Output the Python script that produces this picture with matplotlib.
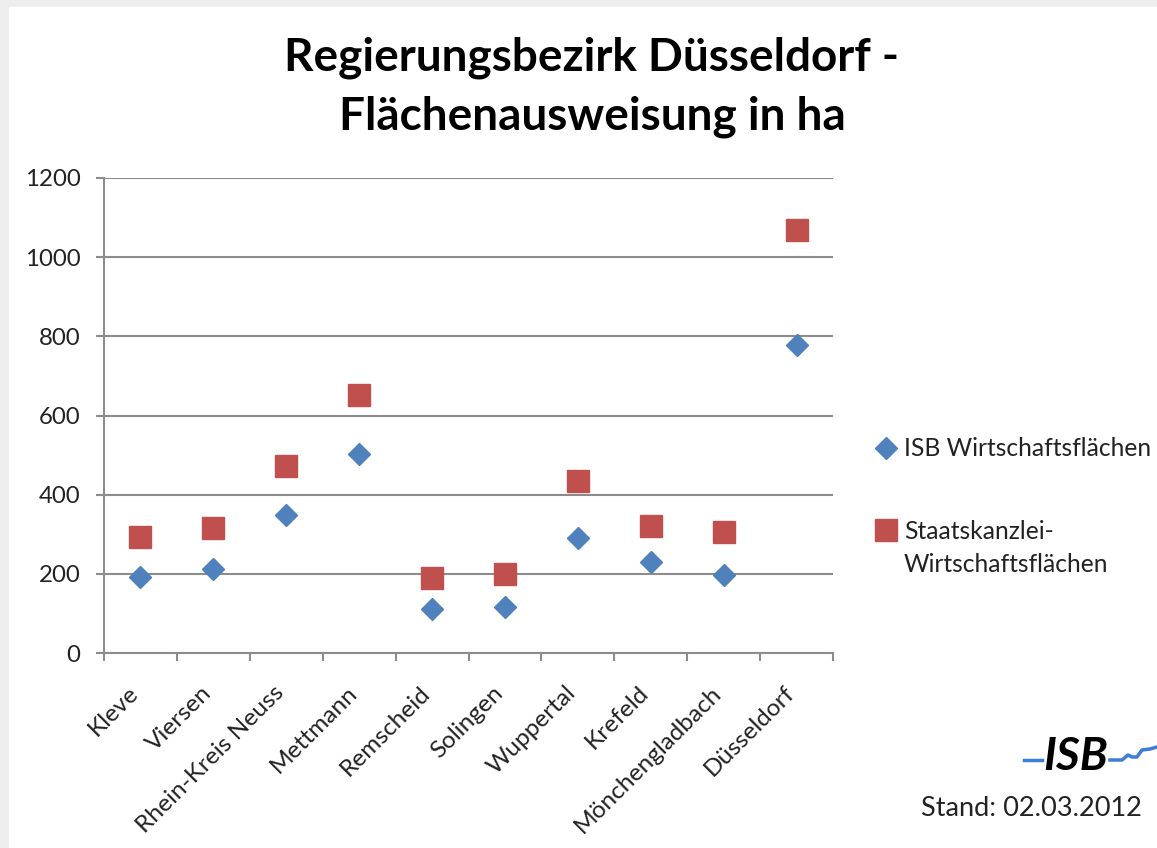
import matplotlib
matplotlib.use("Agg")
import matplotlib.pyplot as plt
from matplotlib.patches import Rectangle
from matplotlib.lines import Line2D
from matplotlib.transforms import ScaledTranslation

categories = ["Kleve", "Viersen", "Rhein-Kreis Neuss", "Mettmann", "Remscheid",
              "Solingen", "Wuppertal", "Krefeld", "Mönchengladbach", "Düsseldorf"]
isb_values = [192, 212, 349, 503, 111, 115, 291, 229, 196, 778]
staats_values = [293, 316, 473, 653, 189, 199, 434, 320, 306, 1068]
y_ticks = [0, 200, 400, 600, 800, 1000, 1200]
title = "Regierungsbezirk Düsseldorf -\nFlächenausweisung in ha"
series_names = ["ISB Wirtschaftsflächen", "Staatskanzlei-Wirtschaftsflächen"]

FONT = ["Lato", "DejaVu Sans"]
plt.rcParams["font.family"] = FONT

W, H = 1157, 848
fig = plt.figure(figsize=(W / 100, H / 100), dpi=100, facecolor="#eeeeee")
fig.patches.append(Rectangle((9 / W, 0), 1 - 9 / W, 1 - 7 / H, transform=fig.transFigure,
                             facecolor="white", edgecolor="none", zorder=-10))

ax = fig.add_axes([104 / W, 1 - 653 / H, (833 - 104) / W, (653 - 178) / H])
ax.set_zorder(2)
ax.set_facecolor("none")
grid_c = "#8c8c8c"
txt_c = "#222222"

x = list(range(len(categories)))
ax.plot(x, isb_values, linestyle="none", marker="D", markersize=11,
        color="#4f81bd", markeredgecolor="#4f81bd", label=series_names[0], zorder=3)
ax.plot(x, staats_values, linestyle="none", marker="s", markersize=16,
        color="#c0504d", markeredgecolor="#c0504d", label=series_names[1], zorder=3)

ax.set_xlim(-0.5, len(categories) - 0.5)
ax.set_ylim(0, 1200)
ax.set_yticks(y_ticks)
ax.set_yticklabels([str(v) for v in y_ticks])
ax.yaxis.grid(True, color=grid_c, linewidth=1.5)
ax.set_axisbelow(True)
for s in ["top", "right"]:
    ax.spines[s].set_visible(False)
for s in ["left", "bottom"]:
    ax.spines[s].set_color(grid_c)
    ax.spines[s].set_linewidth(1.5)

ax.tick_params(axis="y", length=6, width=1.5, color=grid_c, pad=11,
               labelsize=17.3, labelcolor=txt_c)
ax.set_xticks(x)
ax.set_xticklabels(categories, rotation=45, ha="right", rotation_mode="anchor",
                   fontsize=17.6, color=txt_c)
ax.tick_params(axis="x", which="major", length=0, pad=16)
ax.set_xticks([i - 0.5 for i in range(len(categories) + 1)], minor=True)
ax.tick_params(axis="x", which="minor", length=6, width=1.5, color=grid_c)
shift = ScaledTranslation(-13 / 100, -7 / 100, fig.dpi_scale_trans)
for lab in ax.get_xticklabels():
    lab.set_transform(lab.get_transform() + shift)

fig.text(592 / W, 1 - 87 / H, title, ha="center", va="center", fontsize=33,
         fontweight="bold", linespacing=1.48, color="black")

# legend: handles only; labels split over lines for display
h_isb, h_st = ax.get_lines()[:2]
leg = fig.legend([h_isb, h_st], [series_names[0], "Staatskanzlei-"],
                 loc="upper left", bbox_to_anchor=(864 / W, 1 - 425 / H),
                 frameon=False, fontsize=17.7, labelspacing=2.42, handlelength=0.8,
                 handletextpad=0.32, borderpad=0)
for t in leg.get_texts():
    t.set_color(txt_c)
fig.canvas.draw()
t2 = leg.get_texts()[1]
bb = t2.get_window_extent()
fig.text(bb.x0 / W, (bb.y0 + bb.y1) / 2 / H - 33 / H, "Wirtschaftsflächen",
         ha="left", va="center", fontsize=17.7, color=txt_c)

fig.text(1142 / W, 1 - 809 / H, "Stand: 02.03.2012", ha="right", va="center",
         fontsize=19.5, color=txt_c)
# ISB logo
fig.text(1076 / W, 1 - 757 / H, "ISB", ha="center", va="center", fontsize=33,
         fontweight="bold", fontstyle="italic", color="black")
fig.add_artist(Line2D([1024 / W, 1042 / W], [1 - 760 / H, 1 - 760 / H],
                      transform=fig.transFigure, color="#3b7dd8", linewidth=2.5))
fig.add_artist(Line2D([1110 / W, 1122 / W, 1128 / W, 1132 / W, 1137 / W, 1142 / W,
                       1150 / W, 1157 / W],
                      [1 - 760 / H, 1 - 760 / H, 1 - 755 / H, 1 - 757 / H, 1 - 757 / H,
                       1 - 750 / H, 1 - 749 / H, 1 - 747 / H],
                      transform=fig.transFigure, color="#3b7dd8", linewidth=2.5))

fig.savefig("out.png", dpi=100, facecolor=fig.get_facecolor())
